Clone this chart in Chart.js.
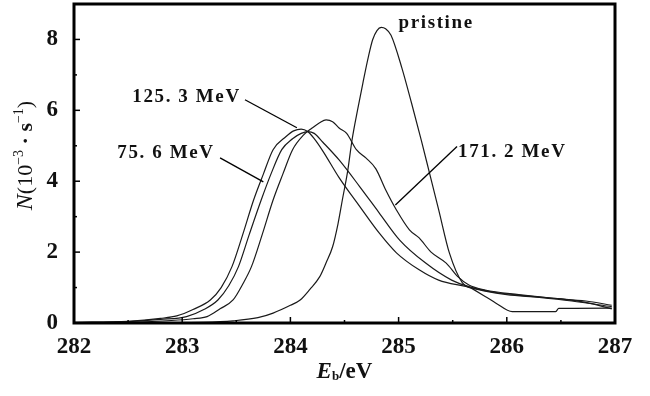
<!DOCTYPE html>
<html>
<head>
<meta charset="utf-8">
<script src="https://cdn.jsdelivr.net/npm/chart.js@4.4.1/dist/chart.umd.min.js"></script>
<style>
  body { margin: 0; background: #fff; }
  canvas { display: block; }
</style>
</head>
<body>
<canvas id="chart" width="650" height="396"></canvas>
<script>
"use strict";

// binding energy (eV) and counts N for each spectrum
const prisX = [282.0, 282.8, 283.2, 283.47, 283.7, 283.84, 284.0, 284.09, 284.18, 284.27, 284.33, 284.39, 284.44, 284.48, 284.53, 284.57, 284.62, 284.67, 284.72, 284.76, 284.8, 284.84, 284.88, 284.93, 285.03, 285.12, 285.21, 285.28, 285.37, 285.47, 285.59, 285.68, 285.8, 285.9, 286.05, 286.17, 286.45, 286.48, 286.97];
const prisY = [0.0, 0.01, 0.02, 0.06, 0.15, 0.28, 0.5, 0.65, 0.95, 1.3, 1.7, 2.15, 2.8, 3.47, 4.3, 5.17, 6.0, 6.77, 7.5, 7.99, 8.25, 8.34, 8.3, 8.12, 7.2, 6.2, 5.15, 4.3, 3.2, 1.97, 1.13, 0.97, 0.75, 0.56, 0.32, 0.32, 0.32, 0.41, 0.42];

const mev171X = [282.0, 282.5, 282.9, 283.1, 283.23, 283.35, 283.47, 283.56, 283.64, 283.74, 283.84, 283.93, 284.02, 284.12, 284.2, 284.27, 284.33, 284.39, 284.45, 284.52, 284.61, 284.7, 284.79, 284.88, 284.98, 285.1, 285.19, 285.3, 285.44, 285.55, 285.65, 285.8, 286.11, 286.41, 286.73, 286.97];
const mev171Y = [0.0, 0.02, 0.07, 0.12, 0.18, 0.4, 0.65, 1.1, 1.59, 2.5, 3.47, 4.2, 4.89, 5.3, 5.5, 5.65, 5.73, 5.68, 5.5, 5.35, 4.89, 4.65, 4.35, 3.76, 3.19, 2.63, 2.4, 2.0, 1.69, 1.3, 1.07, 0.93, 0.8, 0.7, 0.62, 0.5];

const mev125X = [282.0, 282.5, 282.8, 282.95, 283.1, 283.26, 283.36, 283.46, 283.56, 283.66, 283.75, 283.84, 283.96, 284.03, 284.1, 284.16, 284.22, 284.3, 284.45, 284.64, 284.82, 284.98, 285.19, 285.37, 285.62, 285.8, 286.0, 286.3, 286.6, 286.97];
const mev125Y = [0.02, 0.05, 0.13, 0.2, 0.38, 0.65, 1.0, 1.59, 2.5, 3.47, 4.2, 4.89, 5.26, 5.42, 5.47, 5.4, 5.2, 4.85, 4.1, 3.29, 2.54, 1.98, 1.5, 1.21, 1.03, 0.9, 0.8, 0.72, 0.62, 0.46];

const mev75X = [282.0, 282.5, 282.8, 283.04, 283.2, 283.33, 283.43, 283.52, 283.62, 283.73, 283.82, 283.92, 284.02, 284.1, 284.16, 284.22, 284.3, 284.45, 284.64, 284.82, 285.01, 285.25, 285.49, 285.68, 285.9, 286.2, 286.5, 286.73, 286.97];
const mev75Y = [0.01, 0.04, 0.1, 0.18, 0.38, 0.65, 1.05, 1.59, 2.5, 3.47, 4.2, 4.89, 5.2, 5.35, 5.4, 5.35, 5.1, 4.6, 3.85, 3.11, 2.34, 1.69, 1.21, 1.0, 0.86, 0.76, 0.68, 0.58, 0.4];

// curve labels (data coordinates) and their leader lines
const annText  = ["pristine", "171. 2 MeV", "125. 3 MeV", "75. 6 MeV"];
const annX     = [285.0, 285.55, 283.04, 282.85];
const annY     = [8.47, 4.82, 6.38, 4.8];
const annAlign = ["left", "left", "center", "center"];
const leadX1   = [null, 285.54, 283.58, 283.35];
const leadY1   = [null, 4.98, 6.3, 4.66];
const leadX2   = [null, 284.97, 284.06, 283.75];
const leadY2   = [null, 3.33, 5.51, 3.98];

const SERIF = "'Liberation Serif', 'DejaVu Serif', serif";

function pts(xs, ys) {
  return xs.map((x, i) => ({ x: x, y: ys[i] }));
}

function series(label, xs, ys) {
  return {
    label: label,
    data: pts(xs, ys),
    borderColor: "#1a1a1a",
    borderWidth: 1.2,
    pointRadius: 0,
    showLine: true,
    fill: false,
    cubicInterpolationMode: "monotone"
  };
}

// draw a row of text pieces (for super/subscripts), centred at x,y
function drawPieces(ctx, pieces, x, y) {
  let total = 0;
  pieces.forEach(p => { ctx.font = p.font; total += ctx.measureText(p.t).width; });
  let cx = x - total / 2;
  ctx.textAlign = "left";
  ctx.textBaseline = "middle";
  pieces.forEach(p => {
    ctx.font = p.font;
    ctx.fillText(p.t, cx, y + (p.dy || 0));
    cx += ctx.measureText(p.t).width;
  });
}

const framePlugin = {
  id: "frame",
  afterDraw(chart) {
    const ctx = chart.ctx;
    const a = chart.chartArea;
    const xs = chart.scales.x, ys = chart.scales.y;
    ctx.save();
    ctx.strokeStyle = "#000";
    ctx.fillStyle = "#111";

    // inward tick marks
    ctx.lineWidth = 1.5;
    xs.ticks.forEach(t => {
      const px = xs.getPixelForValue(t.value);
      const len = Number.isInteger(Math.round(t.value * 1000) / 1000) ? 6 : 3;
      ctx.beginPath();
      ctx.moveTo(px, a.bottom);
      ctx.lineTo(px, a.bottom - len);
      ctx.stroke();
    });
    ys.ticks.forEach(t => {
      const py = ys.getPixelForValue(t.value);
      const len = t.value % 2 === 0 ? 6 : 3;
      ctx.beginPath();
      ctx.moveTo(a.left, py);
      ctx.lineTo(a.left + len, py);
      ctx.stroke();
    });

    // heavy box
    ctx.lineWidth = 3;
    ctx.strokeRect(a.left, a.top, a.right - a.left, a.bottom - a.top);

    // curve labels
    ctx.lineWidth = 1.3;
    annText.forEach((txt, i) => {
      if (leadX1[i] !== null) {
        ctx.beginPath();
        ctx.moveTo(xs.getPixelForValue(leadX1[i]), ys.getPixelForValue(leadY1[i]));
        ctx.lineTo(xs.getPixelForValue(leadX2[i]), ys.getPixelForValue(leadY2[i]));
        ctx.stroke();
      }
      ctx.font = "bold 19px " + SERIF;
      ctx.letterSpacing = "1.6px";
      ctx.textAlign = annAlign[i];
      ctx.textBaseline = "middle";
      ctx.fillText(txt, xs.getPixelForValue(annX[i]), ys.getPixelForValue(annY[i]));
    });
    ctx.letterSpacing = "0px";

    // x axis title E_b/eV
    drawPieces(ctx, [
      { t: "E", font: "italic bold 23px " + SERIF },
      { t: "b", font: "bold 13px " + SERIF, dy: 5 },
      { t: "/eV", font: "bold 23px " + SERIF }
    ], (a.left + a.right) / 2, 372);

    // y axis title N(10^-3 · s^-1)
    ctx.translate(26, (a.top + a.bottom) / 2 - 8);
    ctx.rotate(-Math.PI / 2);
    drawPieces(ctx, [
      { t: "N", font: "italic 24px " + SERIF },
      { t: "(10", font: "22px " + SERIF },
      { t: "\u22123", font: "14px " + SERIF, dy: -7 },
      { t: " \u00b7 s", font: "bold 22px " + SERIF },
      { t: "\u22121", font: "14px " + SERIF, dy: -7 },
      { t: ")", font: "22px " + SERIF }
    ], 0, 0);
    ctx.restore();
  }
};

new Chart(document.getElementById("chart"), {
  type: "scatter",
  data: {
    datasets: [
      series("pristine", prisX, prisY),
      series("171.2 MeV", mev171X, mev171Y),
      series("125.3 MeV", mev125X, mev125Y),
      series("75.6 MeV", mev75X, mev75Y)
    ]
  },
  options: {
    responsive: false,
    animation: false,
    layout: { padding: { top: 4, right: 35, left: 0, bottom: 0 } },
    plugins: { legend: { display: false }, tooltip: { enabled: false } },
    scales: {
      x: {
        type: "linear", min: 282, max: 287,
        afterFit: (s) => { s.height = 73; s.paddingLeft = 0; s.paddingRight = 0; },
        grid: { display: false },
        border: { display: false },
        ticks: {
          stepSize: 0.5, autoSkip: false, maxRotation: 0, padding: 2,
          color: "#111",
          font: { family: SERIF, size: 23, weight: "bold" },
          callback: (v) => Number.isInteger(Math.round(v * 1000) / 1000) ? Math.round(v) : ""
        }
      },
      y: {
        type: "linear", min: 0, max: 9,
        afterFit: (s) => { s.width = 74; s.paddingTop = 0; s.paddingBottom = 0; },
        grid: { display: false },
        border: { display: false },
        ticks: {
          stepSize: 1, autoSkip: false, padding: 8,
          color: "#111",
          font: { family: SERIF, size: 23, weight: "bold" },
          callback: (v) => v % 2 === 0 ? v : ""
        }
      }
    }
  },
  plugins: [framePlugin]
});
</script>
</body>
</html>
